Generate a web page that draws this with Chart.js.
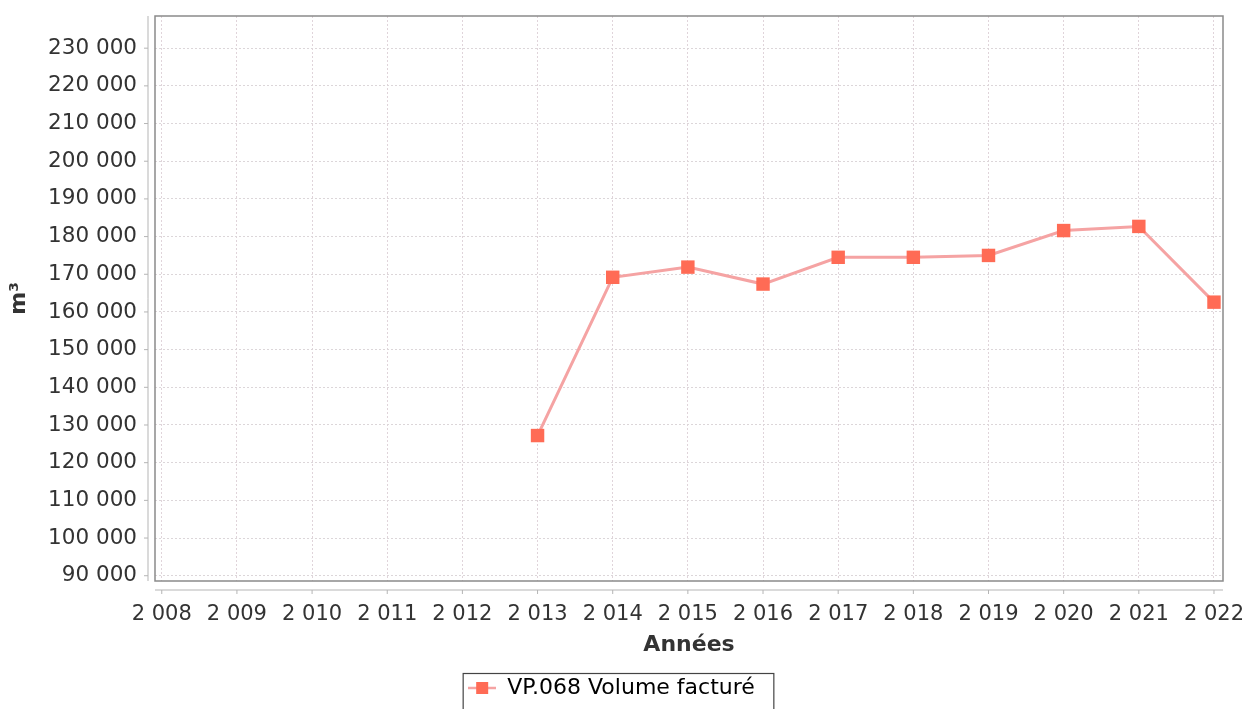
<!DOCTYPE html>
<html lang="fr">

<head>
  <meta charset="UTF-8">
  <title>VP.068 Volume facturé</title>
  <style>
    body {
      margin: 0;
      background-color: #ffffff;
    }

    #wrap {
      width: 1248px;
      height: 709px;
    }
  </style>
</head>

<body>
  <div id="wrap"><canvas id="myChart" width="1248" height="709"></canvas></div>
  <script src="https://cdn.jsdelivr.net/npm/chart.js@4.4.0/dist/chart.umd.min.js"></script>
  <script>
    // data
    const years = [2008, 2009, 2010, 2011, 2012, 2013, 2014, 2015, 2016, 2017, 2018, 2019, 2020, 2021, 2022]
    const volumes = [null, null, null, null, null, 127200, 169200, 171900, 167400, 174500, 174500, 175000, 181600, 182700, 162600]
    const yTicks = [90000, 100000, 110000, 120000, 130000, 140000, 150000, 160000, 170000, 180000, 190000, 200000, 210000, 220000, 230000]
    const seriesLabel = "VP.068 Volume facturé"

    const lineColor = "#f5a3a3"
    const markColor = "#ff6b55"
    const font = "'DejaVu Sans', Verdana, sans-serif"

    // "2 008", "230 000"
    const spaced = v => String(v).replace(/\B(?=(\d{3})+(?!\d))/g, " ")

    // legend symbol : small line with a square on it
    const symbol = document.createElement("canvas")
    symbol.width = 28
    symbol.height = 14
    const sctx = symbol.getContext("2d")
    sctx.strokeStyle = lineColor
    sctx.lineWidth = 2.5
    sctx.beginPath()
    sctx.moveTo(0, 7)
    sctx.lineTo(28, 7)
    sctx.stroke()
    sctx.fillStyle = markColor
    sctx.fillRect(8, 1, 12, 12)

    // plot frame, offset axis lines and the box round the legend
    const framePlugin = {
      id: "frame",
      afterDraw(chart) {
        const c = chart.ctx
        const a = chart.chartArea
        const xs = chart.scales.x
        const ys = chart.scales.y
        c.save()
        c.strokeStyle = "#8a8a8a"
        c.lineWidth = 1.5
        c.strokeRect(a.left, a.top, a.right - a.left, a.bottom - a.top)

        c.strokeStyle = "#b5b5b5"
        c.lineWidth = 1
        c.beginPath()
        c.moveTo(a.left - 7, a.top)
        c.lineTo(a.left - 7, a.bottom)
        yTicks.forEach(t => {
          const py = ys.getPixelForValue(t)
          c.moveTo(a.left - 11, py)
          c.lineTo(a.left - 7, py)
        })
        c.moveTo(a.left, a.bottom + 9)
        c.lineTo(a.right, a.bottom + 9)
        years.forEach(t => {
          const px = xs.getPixelForValue(t)
          c.moveTo(px, a.bottom + 9)
          c.lineTo(px, a.bottom + 13)
        })
        c.stroke()

        const box = chart.legend.legendHitBoxes[0]
        if (box) {
          c.strokeStyle = "#444444"
          c.lineWidth = 1.2
          c.strokeRect(box.left - 5, 673.5, box.width + 24, 40)
        }
        c.restore()
      }
    }

    const ctx = document.getElementById("myChart").getContext("2d")
    const myChart = new Chart(ctx, {
      type: "line",
      data: {
        datasets: [{
          label: seriesLabel,
          data: years.map((y, i) => ({ x: y, y: volumes[i] })),
          borderColor: lineColor,
          backgroundColor: markColor,
          borderWidth: 3,
          pointStyle: "rect",
          pointRadius: 9.5,
          pointBorderWidth: 0,
          pointBackgroundColor: markColor,
          fill: false,
          spanGaps: false
        }]
      },
      options: {
        responsive: false,
        animation: false,
        layout: {
          padding: { top: 16, right: 25, bottom: 0, left: 0 }
        },
        plugins: {
          tooltip: { enabled: false },
          legend: {
            position: "bottom",
            labels: {
              color: "#333333",
              font: { family: font, size: 22 },
              padding: 8,
              pointStyleWidth: 28,
              boxHeight: 14,
              usePointStyle: true,
              generateLabels: () => [{
                text: seriesLabel,
                pointStyle: symbol,
                fillStyle: markColor,
                strokeStyle: lineColor,
                lineWidth: 0,
                hidden: false,
                datasetIndex: 0
              }]
            }
          }
        },
        scales: {
          x: {
            type: "linear",
            min: 2007.91,
            max: 2022.12,
            afterBuildTicks: scale => { scale.ticks = years.map(v => ({ value: v })) },
            afterFit: scale => {
              scale.height = 88
              scale.paddingLeft = 0
              scale.paddingRight = 0
            },
            border: { display: false, dash: [2, 2] },
            grid: {
              color: "#e0d4da",
              lineWidth: 1,
              drawTicks: false
            },
            ticks: {
              padding: 21,
              maxRotation: 0,
              autoSkip: false,
              color: "#333333",
              font: { family: font, size: 21 },
              callback: v => spaced(v)
            },
            title: {
              display: true,
              text: "Années",
              color: "#333333",
              font: { family: font, size: 22, weight: "bold" },
              padding: { top: 0, bottom: 11 }
            }
          },
          y: {
            type: "linear",
            min: 88600,
            max: 238540,
            afterBuildTicks: scale => { scale.ticks = yTicks.map(v => ({ value: v })) },
            afterFit: scale => {
              scale.width = 155
              scale.paddingTop = 0
              scale.paddingBottom = 0
            },
            border: { display: false, dash: [2, 2] },
            grid: {
              color: "#dcd6d9",
              lineWidth: 1,
              drawTicks: false
            },
            ticks: {
              padding: 18,
              color: "#333333",
              font: { family: font, size: 21.5 },
              callback: v => spaced(v)
            },
            title: {
              display: true,
              text: "m³",
              color: "#333333",
              font: { family: font, size: 22, weight: "bold" },
              padding: { top: 6, bottom: 0 }
            }
          }
        }
      },
      plugins: [framePlugin]
    })
  </script>
</body>

</html>
